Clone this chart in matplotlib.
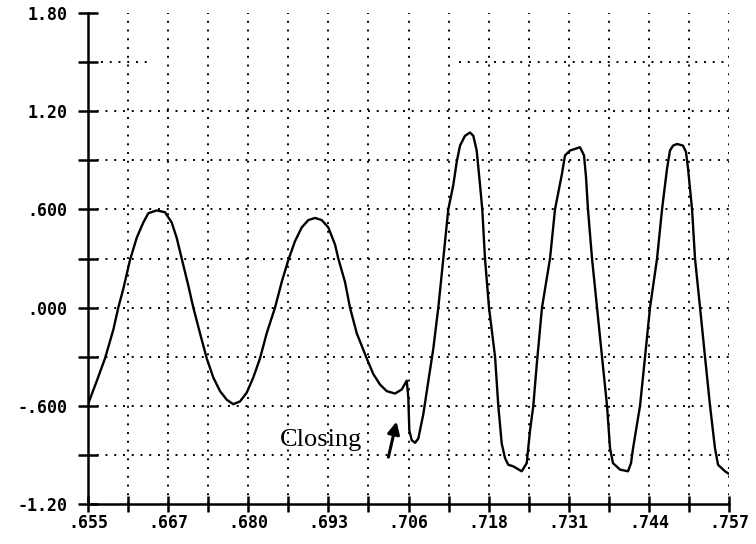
import numpy as np
import matplotlib.pyplot as plt
from matplotlib.ticker import FixedLocator

# temps (s) et signal
t = [0.65500, 0.65638, 0.65771, 0.65903, 0.65982, 0.66062, 0.66168, 0.66275,
     0.66380, 0.66460, 0.66593, 0.66725, 0.66832, 0.66911, 0.66991, 0.67096,
     0.67176, 0.67282, 0.67389, 0.67494, 0.67601, 0.67707, 0.67812, 0.67919,
     0.68025, 0.68130, 0.68237, 0.68344, 0.68476, 0.68582, 0.68687, 0.68794,
     0.68901, 0.69006, 0.69112, 0.69219, 0.69324, 0.69431, 0.69483, 0.69590,
     0.69669, 0.69776, 0.69935, 0.70040, 0.70147, 0.70253, 0.70385, 0.70492,
     0.70572, 0.70597, 0.70613, 0.70651, 0.70704, 0.70756, 0.70836, 0.70915,
     0.70995, 0.71074, 0.71154, 0.71233, 0.71313, 0.71367, 0.71420, 0.71499,
     0.71579, 0.71631, 0.71685, 0.71738, 0.71774, 0.71817, 0.71881, 0.71977,
     0.72029, 0.72083, 0.72136, 0.72188, 0.72268, 0.72401, 0.72481, 0.72534,
     0.72586, 0.72640, 0.72724, 0.72852, 0.72931, 0.73043, 0.73090, 0.73170,
     0.73250, 0.73329, 0.73393, 0.73424, 0.73456, 0.73520, 0.73600, 0.73679,
     0.73759, 0.73807, 0.73854, 0.73966, 0.74093, 0.74141, 0.74173, 0.74284,
     0.74364, 0.74443, 0.74555, 0.74634, 0.74714, 0.74761, 0.74809, 0.74873,
     0.74968, 0.75016, 0.75048, 0.75112, 0.75159, 0.75239, 0.75318, 0.75398,
     0.75477, 0.75525, 0.75636, 0.75716]
signal = [-0.59, -0.45, -0.31, -0.135, 0.0, 0.115, 0.29, 0.427,
          0.52, 0.577, 0.594, 0.583, 0.52, 0.427, 0.30, 0.135,
          0.0, -0.156, -0.31, -0.427, -0.51, -0.5625, -0.59, -0.573,
          -0.52, -0.427, -0.31, -0.156, 0.0, 0.156, 0.29, 0.406,
          0.49, 0.535, 0.548, 0.535, 0.49, 0.385, 0.30, 0.156,
          0.0, -0.156, -0.31, -0.406, -0.47, -0.51, -0.525, -0.50,
          -0.446, -0.55, -0.75, -0.81, -0.826, -0.80, -0.65, -0.45,
          -0.25, 0.0, 0.30, 0.60, 0.75, 0.89, 0.99, 1.05,
          1.07, 1.05, 0.96, 0.75, 0.60, 0.30, 0.0, -0.30,
          -0.60, -0.83, -0.92, -0.96, -0.97, -1.00, -0.95, -0.75,
          -0.60, -0.35, 0.0, 0.30, 0.60, 0.82, 0.93, 0.96,
          0.97, 0.98, 0.93, 0.80, 0.60, 0.30, 0.0, -0.30,
          -0.60, -0.86, -0.95, -0.99, -1.00, -0.95, -0.86, -0.60,
          -0.30, 0.0, 0.30, 0.60, 0.85, 0.96, 0.99, 1.00,
          0.99, 0.95, 0.85, 0.60, 0.30, 0.0, -0.30, -0.60,
          -0.86, -0.96, -1.00, -1.02]

xticks = [0.655, 0.66775, 0.6805, 0.69325, 0.706, 0.71875, 0.7315, 0.74425, 0.757]
xlabels = [".655", ".667", ".680", ".693", ".706", ".718", ".731", ".744", ".757"]
yticks = [-1.2, -0.6, 0.0, 0.6, 1.2, 1.8]
ylabels = ["-1.20", "-.600", ".000", ".600", "1.20", "1.80"]

fig = plt.figure(figsize=(7.56, 5.44), dpi=100)
ax = fig.add_axes([0.1164, 0.0735, 0.8479, 0.9025])
ax.set_xlim(xticks[0], xticks[-1])
ax.set_ylim(-1.2, 1.8)

# grille pointillee
xminor = [(a + b) / 2 for a, b in zip(xticks[:-1], xticks[1:])]
dot = dict(color="black", linestyle=(0, (1, 3.5)), linewidth=1.4, zorder=1)
for x in xticks[1:] + xminor:
    ax.axvline(x, **dot)
for y in np.arange(-0.9, 1.21, 0.3):
    ax.axhline(y, **dot)
# ligne 1.5 partielle (trace abime en haut)
ax.hlines(1.5, 0.6570, 0.6645, **dot)
ax.hlines(1.5, 0.7140, 0.757, **dot)

ax.plot(t, signal, color="black", linewidth=1.7, zorder=3,
        solid_joinstyle="round")

ax.annotate("", xy=(0.7042, -0.68), xytext=(0.7027, -0.93),
            arrowprops=dict(arrowstyle="-|>", color="black", lw=2.2,
                            mutation_scale=18))
ax.text(0.6855, -0.81, "Closing", family="Liberation Serif", fontsize=19,
        va="center", ha="left")

for s in ["top", "right"]:
    ax.spines[s].set_visible(False)
ax.spines["left"].set_linewidth(1.8)
ax.spines["bottom"].set_linewidth(1.8)

ax.xaxis.set_major_locator(FixedLocator(xticks))
ax.xaxis.set_minor_locator(FixedLocator(xminor))
ax.set_xticklabels(xlabels)
ax.yaxis.set_major_locator(FixedLocator(yticks))
ax.yaxis.set_minor_locator(FixedLocator([-0.9, -0.3, 0.3, 0.9, 1.5]))
ax.set_yticklabels(ylabels)

ax.tick_params(axis="both", which="both", direction="inout", width=1.8,
               color="black")
ax.tick_params(axis="x", which="both", length=11, pad=2)
ax.tick_params(axis="y", which="both", length=14, pad=8)
for lab in ax.get_xticklabels() + ax.get_yticklabels():
    lab.set_family("DejaVu Sans Mono")
    lab.set_fontweight("bold")
    lab.set_fontsize(12)

fig.savefig("out.png", dpi=100)
